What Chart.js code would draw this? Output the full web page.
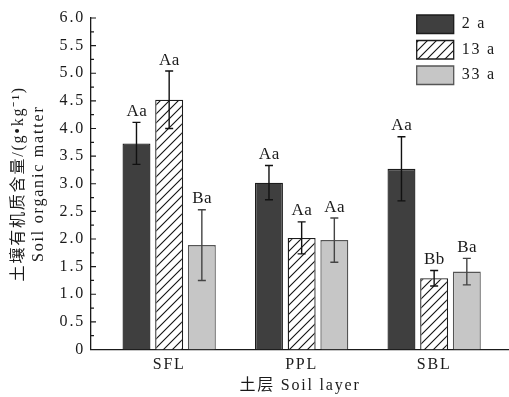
<!DOCTYPE html>
<html>
<head>
<meta charset="utf-8">
<script src="https://cdn.jsdelivr.net/npm/chart.js@4.4.1/dist/chart.umd.min.js"></script>
<style>
  html, body { margin: 0; padding: 0; background: #fff; }
  #wrap { width: 509px; height: 397px; }
</style>
</head>
<body>
<div id="wrap"><canvas id="c" width="509" height="397"></canvas></div>
<script>
// Soil layers on the x axis
const layers = ['SFL', 'PPL', 'SBL'];
// Stand ages (legend)
const ages = ['2 a', '13 a', '33 a'];

// Soil organic matter (g/kg), standard deviation and significance letters per stand age
const som2a = [3.73, 3.02, 3.27];
const err2a = [0.38, 0.31, 0.58];
const sig2a = ['Aa', 'Aa', 'Aa'];

const som13a = [4.52, 2.02, 1.29];
const err13a = [0.52, 0.29, 0.14];
const sig13a = ['Aa', 'Aa', 'Bb'];

const som33a = [1.89, 1.98, 1.41];
const err33a = [0.64, 0.40, 0.24];
const sig33a = ['Ba', 'Aa', 'Ba'];

// Y axis range and step
const yMin = 0, yMax = 6, yStep = 0.5;

const SERIF = '"Liberation Serif", "Times New Roman", "Noto Sans CJK SC", serif';
const TRACKING = '1.8px';

// Diagonal hatch fill for the 13 a bars
function hatchPattern() {
  const s = 9;
  const cv = document.createElement('canvas');
  cv.width = s; cv.height = s;
  const g = cv.getContext('2d');
  g.fillStyle = '#ffffff';
  g.fillRect(0, 0, s, s);
  g.strokeStyle = '#111';
  g.lineWidth = 1.1;
  g.beginPath();
  g.moveTo(-1, s + 1); g.lineTo(s + 1, -1);
  g.moveTo(-1, 1); g.lineTo(1, -1);
  g.moveTo(s - 1, s + 1); g.lineTo(s + 1, s - 1);
  g.stroke();
  return g.createPattern(cv, 'repeat');
}

const toPoints = arr => arr.map((v, i) => ({ x: i, y: v }));

const datasets = [
  { label: ages[0], data: toPoints(som2a), err: err2a, sig: sig2a,
    backgroundColor: '#3f3f3f', borderColor: '#1c1c1c', borderWidth: 1.3, errColor: '#111' },
  { label: ages[1], data: toPoints(som13a), err: err13a, sig: sig13a,
    backgroundColor: hatchPattern(), borderColor: '#1c1c1c', borderWidth: 1.3, errColor: '#111' },
  { label: ages[2], data: toPoints(som33a), err: err33a, sig: sig33a,
    backgroundColor: '#c6c6c6', borderColor: '#555555', borderWidth: 1.3, errColor: '#444' }
];

// Wider letter tracking for axis and legend text
const tracking = {
  id: 'tracking',
  beforeUpdate(chart) { chart.ctx.letterSpacing = TRACKING; },
  beforeDraw(chart) { chart.ctx.letterSpacing = TRACKING; }
};

// Error bars and significance letters above each bar
const errorBars = {
  id: 'errorBars',
  afterDatasetsDraw(chart) {
    const { ctx } = chart;
    const ys = chart.scales.y;
    chart.data.datasets.forEach((ds, di) => {
      const meta = chart.getDatasetMeta(di);
      meta.data.forEach((bar, i) => {
        const v = ds.data[i].y, e = ds.err[i];
        const top = ys.getPixelForValue(v + e);
        const bot = ys.getPixelForValue(v - e);
        const x = bar.x;
        ctx.save();
        ctx.strokeStyle = ds.errColor;
        ctx.lineWidth = 1.4;
        ctx.beginPath();
        ctx.moveTo(x, top); ctx.lineTo(x, bot);
        ctx.moveTo(x - 4, top); ctx.lineTo(x + 4, top);
        ctx.moveTo(x - 4, bot); ctx.lineTo(x + 4, bot);
        ctx.stroke();
        ctx.fillStyle = '#1a1a1a';
        ctx.font = '17px ' + SERIF;
        ctx.letterSpacing = '0.5px';
        ctx.textAlign = 'center';
        ctx.textBaseline = 'alphabetic';
        ctx.fillText(ds.sig[i], x + 0.3, top - 6.5);
        ctx.restore();
      });
    });
  }
};

// Inward major/minor tick marks on the y axis
const inwardTicks = {
  id: 'inwardTicks',
  afterDraw(chart) {
    const { ctx } = chart;
    const ys = chart.scales.y;
    const x0 = chart.chartArea.left;
    const vals = ys.ticks.map(t => t.value);
    ctx.save();
    ctx.strokeStyle = '#1a1a1a';
    ctx.lineWidth = 1.2;
    ctx.beginPath();
    vals.forEach((v, k) => {
      const p = ys.getPixelForValue(v);
      ctx.moveTo(x0, p); ctx.lineTo(x0 + 5, p);
      if (k < vals.length - 1) {
        const q = ys.getPixelForValue((v + vals[k + 1]) / 2);
        ctx.moveTo(x0, q); ctx.lineTo(x0 + 3, q);
      }
    });
    ctx.stroke();
    ctx.restore();
  }
};

// Place the legend in the upper right corner of the plot area
const legendCorner = {
  id: 'legendCorner',
  afterLayout(chart) {
    const lg = chart.legend;
    lg.left = chart.chartArea.right - 99.3;
    lg.top = chart.chartArea.top - 10;
    lg.right = chart.chartArea.right;
    lg.bottom = lg.top + 90;
  }
};

new Chart(document.getElementById('c'), {
  type: 'bar',
  data: { datasets },
  options: {
    responsive: false,
    animation: false,
    devicePixelRatio: 1,
    layout: { padding: { top: 18, right: 0, bottom: 0, left: 0 } },
    datasets: { bar: { categoryPercentage: 0.74, barPercentage: 0.855 } },
    scales: {
      x: {
        type: 'linear',
        offset: false,
        min: -0.59,
        max: 2.565,
        grid: { display: false, drawTicks: false },
        border: { display: true, color: '#1a1a1a', width: 1.3 },
        afterBuildTicks(scale) { scale.ticks = layers.map((_, i) => ({ value: i })); },
        afterFit(scale) { scale.height = 47.5; },
        ticks: {
          autoSkip: false, maxRotation: 0, padding: 6, color: '#1a1a1a',
          font: { family: SERIF, size: 16 },
          callback: v => layers[v]
        },
        title: {
          display: true, text: '土层 Soil layer', color: '#1a1a1a',
          font: { family: SERIF, size: 16, lineHeight: 1.25 },
          padding: { top: 0, bottom: 1.5 }
        }
      },
      y: {
        min: yMin, max: yMax,
        grid: { display: false, drawTicks: false },
        border: { display: true, color: '#1a1a1a', width: 1.3 },
        afterFit(scale) { scale.width = 91; },
        ticks: {
          stepSize: yStep, padding: 6, color: '#1a1a1a',
          font: { family: SERIF, size: 16 },
          callback: v => (v === 0 ? '0' : Number(v).toFixed(1))
        },
        title: {
          display: true,
          text: ['土壤有机质含量/(g•kg⁻¹)', 'Soil organic matter'],
          color: '#1a1a1a',
          font: { family: SERIF, size: 16, lineHeight: 1.25 },
          padding: { top: 9, bottom: 0 }
        }
      }
    },
    plugins: {
      legend: {
        position: 'chartArea',
        align: 'start',
        labels: {
          boxWidth: 37, boxHeight: 18.5, padding: 7, color: '#1a1a1a',
          font: { family: SERIF, size: 16 }
        }
      },
      tooltip: { enabled: false }
    }
  },
  plugins: [tracking, errorBars, inwardTicks, legendCorner]
});
</script>
</body>
</html>
